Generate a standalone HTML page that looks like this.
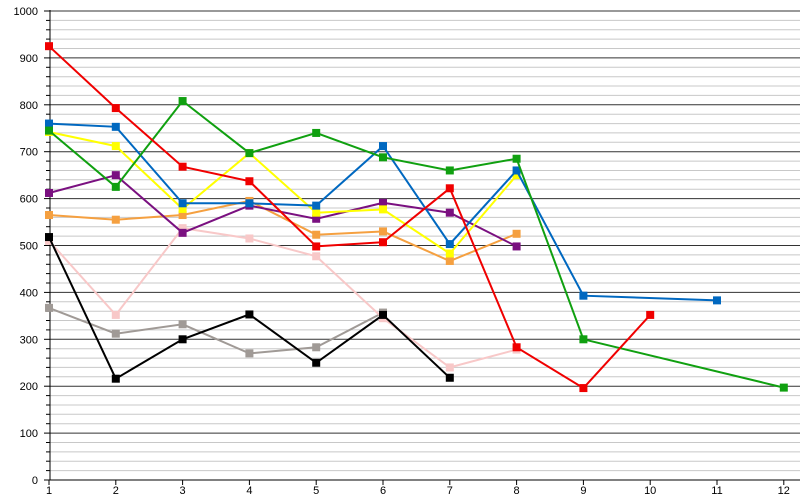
<!DOCTYPE html><html><head><style>body{margin:0;background:#fff}svg{display:block}text{font-family:"Liberation Sans",sans-serif;font-size:11px;fill:#000}</style></head><body>
<svg id="s" width="800" height="500" xmlns="http://www.w3.org/2000/svg"></svg>
<script>
const s=document.getElementById('s');let h='';
const X=i=>49+(i-1)*66.8, Y=v=>480-v*0.469;
for(let v=20;v<=1000;v+=20){const y=Y(v).toFixed(1);const maj=v%100==0;
h+=`<line x1="50" x2="800" y1="${y}" y2="${y}" stroke="${maj?'#333':'#c8c8c8'}" stroke-width="1"/>`;
h+=`<line x1="${maj?44:46}" x2="50" y1="${y}" y2="${y}" stroke="#000"/>`;}
for(let v=0;v<=1000;v+=100)h+=`<text x="38" y="${Y(v)+4}" text-anchor="end">${v}</text>`;
h+=`<line x1="50" x2="50" y1="10" y2="480" stroke="#000"/><line x1="44" x2="800" y1="480" y2="480" stroke="#000"/>`;
for(let i=1;i<=12;i++){h+=`<line x1="${X(i)}" x2="${X(i)}" y1="480" y2="485" stroke="#000"/><text x="${X(i)}" y="494" text-anchor="middle">${i}</text>`;}
const S=[
['#a09a96',[[1,367],[2,312],[3,332],[4,270],[5,283],[6,357]]],
['#f8c8c8',[[1,510],[2,352],[3,537],[4,515],[5,477],[6,345],[7,240],[8,278]]],
['#000',[[1,518],[2,216],[3,300],[4,353],[5,250],[6,352],[7,218]]],
['#f5a040',[[1,565],[2,555],[3,565],[4,595],[5,523],[6,530],[7,467],[8,525]]],
['#7a1080',[[1,612],[2,650],[3,527],[4,585],[5,557],[6,591],[7,570],[8,498]]],
['#ffff00',[[1,742],[2,712],[3,578],[4,697],[5,570],[6,577],[7,483],[8,650]]],
['#0068c0',[[1,760],[2,753],[3,590],[4,590],[5,585],[6,712],[7,503],[8,660],[9,393],[11,383]]],
['#10a010',[[1,745],[2,625],[3,808],[4,697],[5,740],[6,688],[7,660],[8,685],[9,300],[12,197]]],
['#f00000',[[1,925],[2,793],[3,668],[4,637],[5,498],[6,507],[7,622],[8,283],[9,196],[10,352]]]];
for(const [c,d] of S){h+=`<polyline fill="none" stroke="${c}" stroke-width="2" points="${d.map(p=>X(p[0])+','+Y(p[1]).toFixed(1)).join(' ')}"/>`;
for(const p of d)h+=`<rect x="${X(p[0])-4}" y="${Y(p[1])-4}" width="8" height="8" fill="${c}"/>`;}
s.innerHTML=h;
</script></body></html>
